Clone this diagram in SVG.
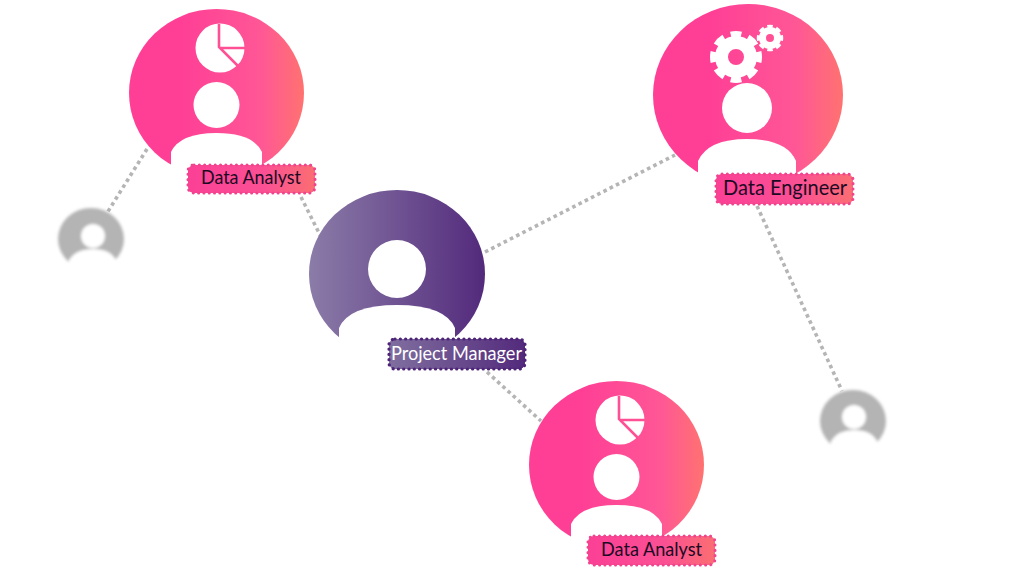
<svg xmlns="http://www.w3.org/2000/svg" width="1021" height="588" viewBox="0 0 1021 588">
  <style>
    text { font-family: "Lato", "Open Sans", sans-serif; text-anchor: middle; }
    .link { fill: none; stroke: #b5b5b5; stroke-width: 3.6; stroke-dasharray: 3.6 3.4; }
    .cut { fill: #fff; }
    .tag-pink { fill: url(#pinkTag); stroke: #f0448f; stroke-width: 3; stroke-dasharray: 0.1 5.2; stroke-linecap: round; }
    .tag-purple { fill: url(#purpleTag); stroke: #4d2478; stroke-width: 3.2; stroke-dasharray: 0.1 5.2; stroke-linecap: round; }
    .tag-text { font-size: 19px; fill: #1c0a24; }
    .slice { fill: none; stroke: #ff5095; stroke-width: 2.6; }
  </style>
  <defs>
    <linearGradient id="pink" x1="0" x2="1" y1="0" y2="0">
      <stop offset="0" stop-color="#ff3f96"/>
      <stop offset="0.3" stop-color="#ff3f96"/>
      <stop offset="0.75" stop-color="#ff5796"/>
      <stop offset="1" stop-color="#ff7270"/>
    </linearGradient>
    <linearGradient id="pinkTag" x1="0" x2="1" y1="0" y2="0">
      <stop offset="0" stop-color="#fb4096"/>
      <stop offset="0.6" stop-color="#fb5094"/>
      <stop offset="1" stop-color="#fb6e72"/>
    </linearGradient>
    <linearGradient id="purple" x1="0" x2="1" y1="0" y2="0">
      <stop offset="0" stop-color="#8b7ca8"/>
      <stop offset="1" stop-color="#532a7c"/>
    </linearGradient>
    <linearGradient id="purpleTag" x1="0" x2="1" y1="0" y2="0">
      <stop offset="0" stop-color="#806f9f"/>
      <stop offset="1" stop-color="#532a7c"/>
    </linearGradient>
    <filter id="soft" x="-20%" y="-20%" width="140%" height="140%">
      <feGaussianBlur stdDeviation="1.7"/>
    </filter>
  </defs>

  <g id="connectors">
    <path class="link" d="M147 149L107 213"/>
    <path class="link" d="M301 197L322 239"/>
    <path class="link" d="M485 252L675 155"/>
    <path class="link" d="M487 372L541 421"/>
    <path class="link" d="M757 206L842 391"/>
  </g>

  <g id="reviewer-left" filter="url(#soft)">
    <ellipse cx="91" cy="239" rx="33" ry="31" fill="#b4b4b4"/>
    <circle cx="93" cy="236" r="12" class="cut"/>
    <path class="cut" d="M69 266V260Q76 249 93 249Q110 249 116 260V266L110 278H75Z"/>
  </g>

  <g id="reviewer-right" filter="url(#soft)">
    <ellipse cx="853" cy="421" rx="33" ry="31" fill="#b4b4b4"/>
    <circle cx="854" cy="417" r="12" class="cut"/>
    <path class="cut" d="M831 447V441Q838 430 854 430Q871 430 877 441V447L871 459H837Z"/>
  </g>

  <g id="analyst-top">
    <ellipse cx="216.500" cy="93" rx="87.500" ry="84" fill="url(#pink)"/>
    <circle cx="220" cy="48" r="24.500" class="cut"/>
    <path class="slice" d="M219 24V47L238 66M221 48H245"/>
    <circle cx="216.500" cy="105" r="23" class="cut"/>
    <path class="cut" d="M171 168V152Q180 133 216.500 133Q253 133 262 152V190H171Z"/>
    <rect class="tag-pink" x="188" y="165" width="127" height="28" rx="6"/>
    <text class="tag-text" x="251" y="184" textLength="100" lengthAdjust="spacingAndGlyphs">Data Analyst</text>
  </g>

  <g id="data-engineer">
    <ellipse cx="748" cy="95" rx="95" ry="91" fill="url(#pink)"/>
    <g fill="none" stroke="#fff">
      <circle cx="736" cy="57" r="14.500" stroke-width="13"/>
      <circle cx="736" cy="57" r="23" stroke-width="6" pathLength="80" stroke-dasharray="6 4" stroke-dashoffset="3"/>
      <circle cx="770" cy="38" r="7.500" stroke-width="7"/>
      <circle cx="770" cy="38" r="11.500" stroke-width="3.500" pathLength="80" stroke-dasharray="6 4" stroke-dashoffset="3"/>
    </g>
    <circle cx="747" cy="108" r="25" class="cut"/>
    <path class="cut" d="M698 175V161Q708 139 747 139Q787 139 796 161V200H698Z"/>
    <rect class="tag-pink" x="716" y="174" width="137" height="30" rx="6"/>
    <text class="tag-text" x="785" y="195" style="font-size:21px" textLength="124" lengthAdjust="spacingAndGlyphs">Data Engineer</text>
  </g>

  <g id="project-manager">
    <ellipse cx="397" cy="274" rx="88" ry="84" fill="url(#purple)"/>
    <circle cx="397" cy="269" r="29" class="cut"/>
    <path class="cut" d="M339 340V328Q349 305 397 305Q445 305 455 328V365H339Z"/>
    <rect class="tag-purple" x="389" y="339" width="136" height="30" rx="6"/>
    <text class="tag-text" x="456.500" y="360" style="font-size:20px;fill:#fff" textLength="131" lengthAdjust="spacingAndGlyphs">Project Manager</text>
  </g>

  <g id="analyst-bottom">
    <ellipse cx="616.500" cy="465" rx="87.500" ry="84" fill="url(#pink)"/>
    <circle cx="620" cy="420" r="24.500" class="cut"/>
    <path class="slice" d="M619 396V419L638 438M621 420H645"/>
    <circle cx="616.500" cy="477" r="23" class="cut"/>
    <path class="cut" d="M571 540V524Q580 505 616.500 505Q653 505 662 524V560H571Z"/>
    <rect class="tag-pink" x="588" y="536" width="127" height="29" rx="6"/>
    <text class="tag-text" x="651.500" y="556" textLength="101" lengthAdjust="spacingAndGlyphs">Data Analyst</text>
  </g>
</svg>
